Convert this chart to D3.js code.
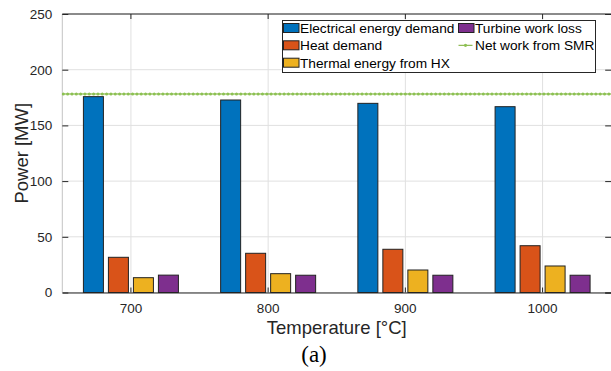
<!DOCTYPE html>
<html>
<head>
<meta charset="utf-8">
<script src="https://cdn.jsdelivr.net/npm/d3@7"></script>
<style>
  html, body { margin: 0; padding: 0; background: #fff; }
  svg { display: block; font-family: "Liberation Sans", Arial, sans-serif; }
</style>
</head>
<body>
<svg id="chart" width="611" height="371"></svg>
<script>
// categories (temperature, deg C)
var temperatures = ["700", "800", "900", "1000"];

// series values [MW]
var electricalDemand = [175.8, 172.8, 169.8, 166.8];
var heatDemand = [31.6, 35.2, 38.8, 42.0];
var thermalFromHX = [13.3, 16.9, 20.2, 23.8];
var turbineLoss = [15.6, 15.5, 15.5, 15.5];
var netWorkSMR = 178.2;

var yTicks = [0, 50, 100, 150, 200, 250];

var seriesNames = ["Electrical energy demand", "Heat demand", "Thermal energy from HX", "Turbine work loss"];
var seriesColors = ["#0072BD", "#D95319", "#EDB120", "#7E2F8E"];
var seriesValues = [electricalDemand, heatDemand, thermalFromHX, turbineLoss];

(function() {
	var svg = d3.select("#chart");

	// plot box
	var pLeft = 62.3, pRight = 611.2, pTop = 14, pBottom = 292.5;
	var axisColor = "#262626";
	var font = "Liberation Sans, Arial, sans-serif";

	var x = d3.scaleBand().domain(temperatures).range([pLeft, pRight]).padding(0);
	var xIn = d3.scaleBand().domain(d3.range(seriesNames.length)).range([-50, 50])
		.paddingInner(0.2).paddingOuter(0.1);
	var y = d3.scaleLinear().domain([0, 250]).range([pBottom, pTop]);
	var xc = function(d) { return x(d) + x.bandwidth() / 2; };

	// grid
	var grid = svg.append("g");
	grid.selectAll("line.h").data(yTicks).enter().append("line")
		.attr("x1", pLeft).attr("x2", pRight)
		.attr("y1", function(d) { return y(d); }).attr("y2", function(d) { return y(d); })
		.attr("stroke", "#e0e0e0").attr("stroke-width", 1);
	grid.selectAll("line.v").data(temperatures).enter().append("line")
		.attr("x1", xc).attr("x2", xc)
		.attr("y1", pTop).attr("y2", pBottom)
		.attr("stroke", "#e0e0e0").attr("stroke-width", 1);

	// left border (light) and top border
	svg.append("line").attr("x1", pLeft).attr("x2", pLeft).attr("y1", pTop).attr("y2", pBottom)
		.attr("stroke", "#c4c4c4");
	svg.append("line").attr("x1", pLeft).attr("x2", pRight).attr("y1", pTop).attr("y2", pTop)
		.attr("stroke", axisColor);

	// bars
	var groups = svg.append("g").selectAll("g").data(temperatures).enter().append("g")
		.attr("transform", function(d) { return "translate(" + xc(d) + ",0)"; });
	groups.selectAll("rect").data(function(d, i) {
			return seriesValues.map(function(s, k) { return { k: k, v: s[i] }; });
		}).enter().append("rect")
		.attr("x", function(d) { return xIn(d.k); })
		.attr("width", xIn.bandwidth())
		.attr("y", function(d) { return y(d.v); })
		.attr("height", function(d) { return y(0) - y(d.v); })
		.attr("fill", function(d) { return seriesColors[d.k]; })
		.attr("stroke", "#222").attr("stroke-width", 1);

	// net work line with dense markers
	var netY = y(netWorkSMR);
	svg.append("line").attr("x1", pLeft).attr("x2", pRight).attr("y1", netY).attr("y2", netY)
		.attr("stroke", "#77AC30").attr("stroke-width", 1);
	svg.append("line").attr("x1", pLeft + 1).attr("x2", pRight).attr("y1", netY).attr("y2", netY)
		.attr("stroke", "#8cc152").attr("stroke-width", 3)
		.attr("stroke-linecap", "round").attr("stroke-dasharray", "0 4.33");

	// y axis ticks + labels
	var yAxis = d3.axisLeft(y).tickValues(yTicks).tickSize(-6).tickPadding(10);
	var gy = svg.append("g").attr("transform", "translate(" + pLeft + ",0)").call(yAxis);
	gy.select(".domain").remove();
	gy.selectAll("line").attr("stroke", axisColor);
	gy.selectAll("text").attr("fill", axisColor).attr("font-size", "13.5px")
		.attr("font-family", font);

	// right ticks
	var yAxisR = d3.axisRight(y).tickValues(yTicks).tickSize(-6).tickFormat("");
	var gyr = svg.append("g").attr("transform", "translate(" + pRight + ",0)").call(yAxisR);
	gyr.select(".domain").attr("stroke", axisColor);
	gyr.selectAll("line").attr("stroke", axisColor);

	// x axis
	var xAxis = d3.axisBottom(x).tickSize(-5).tickPadding(11).tickSizeOuter(0);
	var gx = svg.append("g").attr("transform", "translate(0," + pBottom + ")").call(xAxis);
	gx.select(".domain").attr("stroke", axisColor);
	gx.selectAll("line").attr("stroke", axisColor);
	gx.selectAll("text").attr("fill", axisColor).attr("font-size", "13.5px")
		.attr("font-family", font);

	// top ticks
	var xAxisT = d3.axisTop(x).tickSize(-5).tickFormat("").tickSizeOuter(0);
	var gxt = svg.append("g").attr("transform", "translate(0," + pTop + ")").call(xAxisT);
	gxt.select(".domain").remove();
	gxt.selectAll("line").attr("stroke", axisColor);

	// axis titles
	svg.append("text").attr("x", (pLeft + pRight) / 2).attr("y", 333.5)
		.attr("text-anchor", "middle").attr("font-size", "18.5px").attr("fill", axisColor)
		.text("Temperature [\u00B0C]");
	svg.append("text").attr("transform", "translate(27.5," + ((pTop + pBottom) / 2) + ") rotate(-90)")
		.attr("text-anchor", "middle").attr("font-size", "18.5px").attr("fill", axisColor)
		.text("Power [MW]");
	svg.append("text").attr("x", 314).attr("y", 362)
		.attr("text-anchor", "middle").attr("font-size", "23px")
		.attr("font-family", "Liberation Serif, Times New Roman, serif").attr("fill", "#000")
		.text("(a)");

	// legend
	var legend = svg.append("g");
	legend.append("rect").attr("x", 282.5).attr("y", 20.5).attr("width", 313).attr("height", 52)
		.attr("fill", "#fff").attr("stroke", axisColor).attr("stroke-width", 1);

	var legendItems = [
		{ name: seriesNames[0], color: seriesColors[0], col: 0, row: 0, type: "bar" },
		{ name: seriesNames[1], color: seriesColors[1], col: 0, row: 1, type: "bar" },
		{ name: seriesNames[2], color: seriesColors[2], col: 0, row: 2, type: "bar" },
		{ name: seriesNames[3], color: seriesColors[3], col: 1, row: 0, type: "bar" },
		{ name: "Net work from SMR", color: "#77AC30", col: 1, row: 1, type: "line" }
	];
	var colX = [283.5, 458.5];
	var rowY = [33, 50.3, 67.7];

	legendItems.forEach(function(it) {
		var lx = colX[it.col], ly = rowY[it.row];
		if (it.type === "bar") {
			legend.append("rect").attr("x", lx).attr("y", ly - 9.5).attr("width", 15.5).attr("height", 9)
				.attr("fill", it.color).attr("stroke", "#222").attr("stroke-width", 1);
		} else {
			legend.append("line").attr("x1", lx).attr("x2", lx + 14).attr("y1", ly - 5).attr("y2", ly - 5)
				.attr("stroke", it.color).attr("stroke-width", 1);
			legend.append("circle").attr("cx", lx + 7).attr("cy", ly - 5).attr("r", 1.6)
				.attr("fill", "#8cc152");
		}
		legend.append("text").attr("x", lx + 16.5).attr("y", ly)
			.attr("font-size", "13.7px").attr("fill", "#000").text(it.name);
	});
})();
</script>
</body>
</html>
